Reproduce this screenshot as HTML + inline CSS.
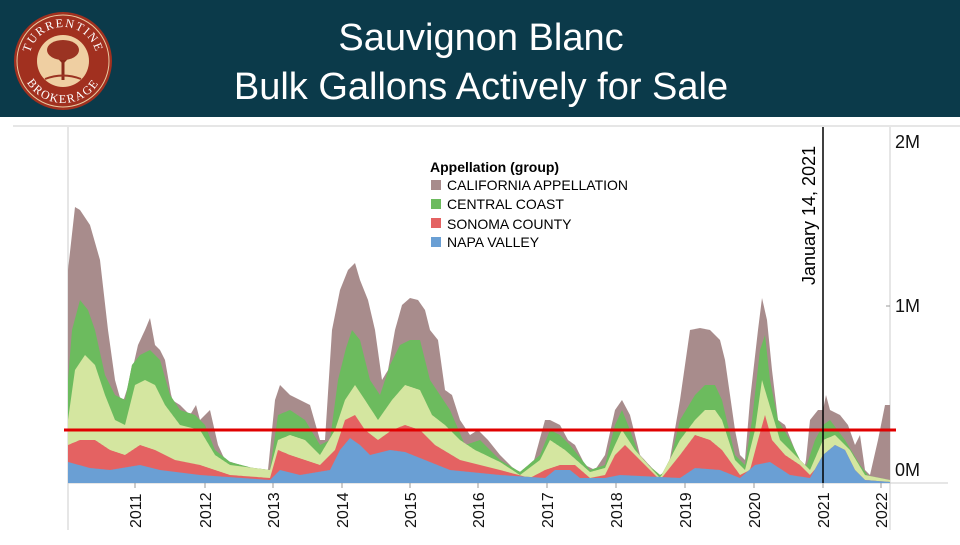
<!DOCTYPE html>
<html><head><meta charset="utf-8"><style>
body{margin:0;width:960px;height:540px;overflow:hidden;background:#fff;font-family:"Liberation Sans",sans-serif}
</style></head><body>
<svg id="s" width="960" height="540" xmlns="http://www.w3.org/2000/svg">
<rect x="0" y="0" width="960" height="117" fill="#0b3a4a"/>
<circle cx="63" cy="61" r="49" fill="#a1301f"/>
<circle cx="63" cy="61" r="46" fill="none" stroke="#e8c9a0" stroke-width="1"/>
<circle cx="63" cy="61" r="26" fill="#efcfa2"/>
<path d="M63 80 L63 60 M63 62 L52 50 M63 62 L74 50 M63 58 L63 45" stroke="#8a2a1a" stroke-width="3"/>
<ellipse cx="63" cy="50" rx="16" ry="10" fill="#9b3322"/>
<path d="M45 79 Q63 72 81 79" stroke="#9b3322" stroke-width="2" fill="none"/>
<defs><path id="ta" d="M29 61 A34 34 0 0 1 97 61"/><path id="tb" d="M21 61 A42 42 0 0 0 105 61"/></defs>
<text font-family="Liberation Serif,serif" font-size="12" fill="#fff" letter-spacing="1.5"><textPath href="#ta" startOffset="50%" text-anchor="middle">TURRENTINE</textPath></text>
<text font-family="Liberation Serif,serif" font-size="12" fill="#fff" letter-spacing="1.5"><textPath href="#tb" startOffset="50%" text-anchor="middle">BROKERAGE</textPath></text>
<text x="481" y="50" fill="#fff" font-size="38" text-anchor="middle">Sauvignon Blanc</text>
<text x="481" y="99" fill="#fff" font-size="38" text-anchor="middle">Bulk Gallons Actively for Sale</text>
<line x1="13" y1="126" x2="960" y2="126" stroke="#ccc" stroke-width="1"/>
<line x1="68" y1="127" x2="68" y2="530" stroke="#ccc"/>
<line x1="890" y1="127" x2="890" y2="530" stroke="#ccc"/>
<line x1="68" y1="483" x2="948" y2="483" stroke="#ccc"/>
<g id="areas"></g>
<line x1="64" y1="430" x2="896" y2="430" stroke="#e00000" stroke-width="3"/>
<line x1="823" y1="127" x2="823" y2="483" stroke="#000" stroke-width="1.5"/>
<text transform="translate(815,285) rotate(-90)" font-size="18" fill="#000">January 14, 2021</text>
<g font-size="18" fill="#111"><text x="895" y="148">2M</text><text x="895" y="312">1M</text><text x="895" y="476">0M</text></g>
<line x1="886" y1="306" x2="890" y2="306" stroke="#999"/>
<g id="yrs" font-size="16" fill="#111"></g>
<g font-size="14" fill="#000">
<text x="430" y="172" font-weight="bold">Appellation (group)</text>
<rect x="431" y="180" width="10" height="10" fill="#a88c8c"/><text x="447" y="190">CALIFORNIA APPELLATION</text>
<rect x="431" y="199" width="10" height="10" fill="#6cbb5e"/><text x="447" y="209">CENTRAL COAST</text>
<rect x="431" y="218" width="10" height="10" fill="#e46262"/><text x="447" y="229">SONOMA COUNTY</text>
<rect x="431" y="237" width="10" height="10" fill="#6a9fd4"/><text x="447" y="247">NAPA VALLEY</text>
</g>
</svg>
<script>
function P(s){var a=s.trim().split(/[\s,]+/).map(Number),r=[];for(var i=0;i<a.length;i+=2)r.push([a[i],a[i+1]]);return r;}
function I(p,x){if(x<=p[0][0])return p[0][1];for(var i=1;i<p.length;i++){if(x<=p[i][0]){var t=(x-p[i-1][0])/(p[i][0]-p[i-1][0]);return p[i-1][1]+t*(p[i][1]-p[i-1][1]);}}return p[p.length-1][1];}
var L=[
["#a88c8c","68 270 75 207 80 210 90 225 100 260 108 330 115 380 122 405 130 380 138 345 145 330 150 318 155 345 160 350 165 360 172 400 180 405 190 415 196 405 200 420 210 410 218 445 225 460 240 465 260 470 268 470 275 400 280 385 290 395 300 400 310 405 320 440 325 440 332 330 340 290 348 270 355 263 360 280 368 300 375 330 382 380 388 370 395 330 402 305 410 298 418 300 425 310 430 330 438 340 445 390 452 395 460 420 470 435 478 430 488 440 500 455 515 470 530 475 545 420 550 420 560 425 568 440 575 445 585 465 595 470 605 455 615 410 622 400 630 415 640 455 652 468 660 475 668 470 680 400 690 330 700 328 710 330 720 340 725 360 735 430 740 455 745 460 750 400 758 330 762 298 767 320 772 370 778 420 785 425 795 450 805 470 810 420 818 410 823 410 826 395 830 410 840 415 848 425 855 445 860 435 865 470 870 475 878 440 885 405 890 405"],
["#6cbb5e","68 380 72 330 80 300 88 310 95 330 105 375 115 395 125 400 132 365 140 355 150 350 160 360 170 395 180 410 195 415 205 425 215 450 230 462 260 470 270 470 278 415 290 410 305 420 320 445 330 440 338 380 346 348 352 330 360 340 370 380 380 395 390 365 400 345 410 340 420 340 430 380 440 395 450 410 465 445 480 440 500 460 520 472 540 455 550 430 560 435 570 445 590 470 605 465 615 425 622 410 630 430 640 458 660 475 668 470 680 420 695 395 705 385 715 385 722 400 735 455 745 465 752 420 760 350 765 335 770 380 778 420 790 440 805 470 815 440 823 425 830 420 845 440 860 465 870 478 890 480"],
["#d4e6a0","68 420 75 370 85 355 95 365 105 395 115 420 125 425 135 385 145 380 155 385 165 405 180 425 200 430 215 455 230 465 270 470 278 440 290 435 305 440 320 455 335 430 345 400 355 385 365 400 378 420 392 400 405 385 420 390 432 415 445 425 460 440 475 450 500 462 520 475 540 460 550 440 565 450 590 472 605 468 615 445 622 430 635 450 660 478 680 440 695 420 705 410 715 410 722 420 735 460 745 470 755 430 762 380 768 400 780 440 800 460 810 470 823 440 835 435 850 450 865 475 890 480"],
["#e46262","68 445 80 440 95 440 110 450 125 455 140 445 155 450 175 460 200 465 230 475 270 478 278 450 290 455 305 460 320 465 335 450 345 420 355 415 365 430 378 440 392 430 405 425 420 430 435 445 460 460 500 470 530 478 545 470 560 465 575 465 590 478 605 475 615 455 625 445 640 460 660 480 680 455 695 435 710 440 722 450 740 475 750 470 758 440 765 415 772 440 785 455 800 465 810 475 823 460 835 450 850 470 865 480 890 482"],
["#6a9fd4","68 462 90 468 110 470 140 465 160 470 200 475 270 480 280 470 300 475 330 470 340 450 350 438 360 445 370 455 390 450 405 452 420 458 450 470 500 475 545 478 555 470 570 470 580 478 605 478 620 475 680 478 695 468 720 470 740 478 755 465 770 462 790 475 810 478 823 455 835 445 845 450 855 470 865 480 890 482"]];
var h="";
var pts=L.map(function(l){return P(l[1]);});
var vals=[];for(var k=0;k<5;k++)vals.push([]);
for(var x=68;x<=890;x++){for(k=4;k>=0;k--){var y=Math.min(I(pts[k],x),483);if(k<4)y=Math.min(y,vals[k+1][x-68]);vals[k].push(y);}}
for(k=0;k<5;k++){var d="M68 483";for(x=68;x<=890;x++)d+=" L"+x+" "+vals[k][x-68].toFixed(1);d+=" L890 483Z";h+='<path d="'+d+'" fill="'+L[k][0]+'"/>';}
document.getElementById("areas").innerHTML=h;
var yr=[[135,2011],[205,2012],[273,2013],[342,2014],[410,2015],[478,2016],[547,2017],[616,2018],[685,2019],[754,2020],[823,2021],[881,2022]],g="";
yr.forEach(function(a){g+='<text transform="translate('+(a[0]+6)+',528) rotate(-90)">'+a[1]+'</text><line x1="'+a[0]+'" y1="483" x2="'+a[0]+'" y2="488" stroke="#999"/>';});
document.getElementById("yrs").innerHTML=g;
</script>
</body></html>
